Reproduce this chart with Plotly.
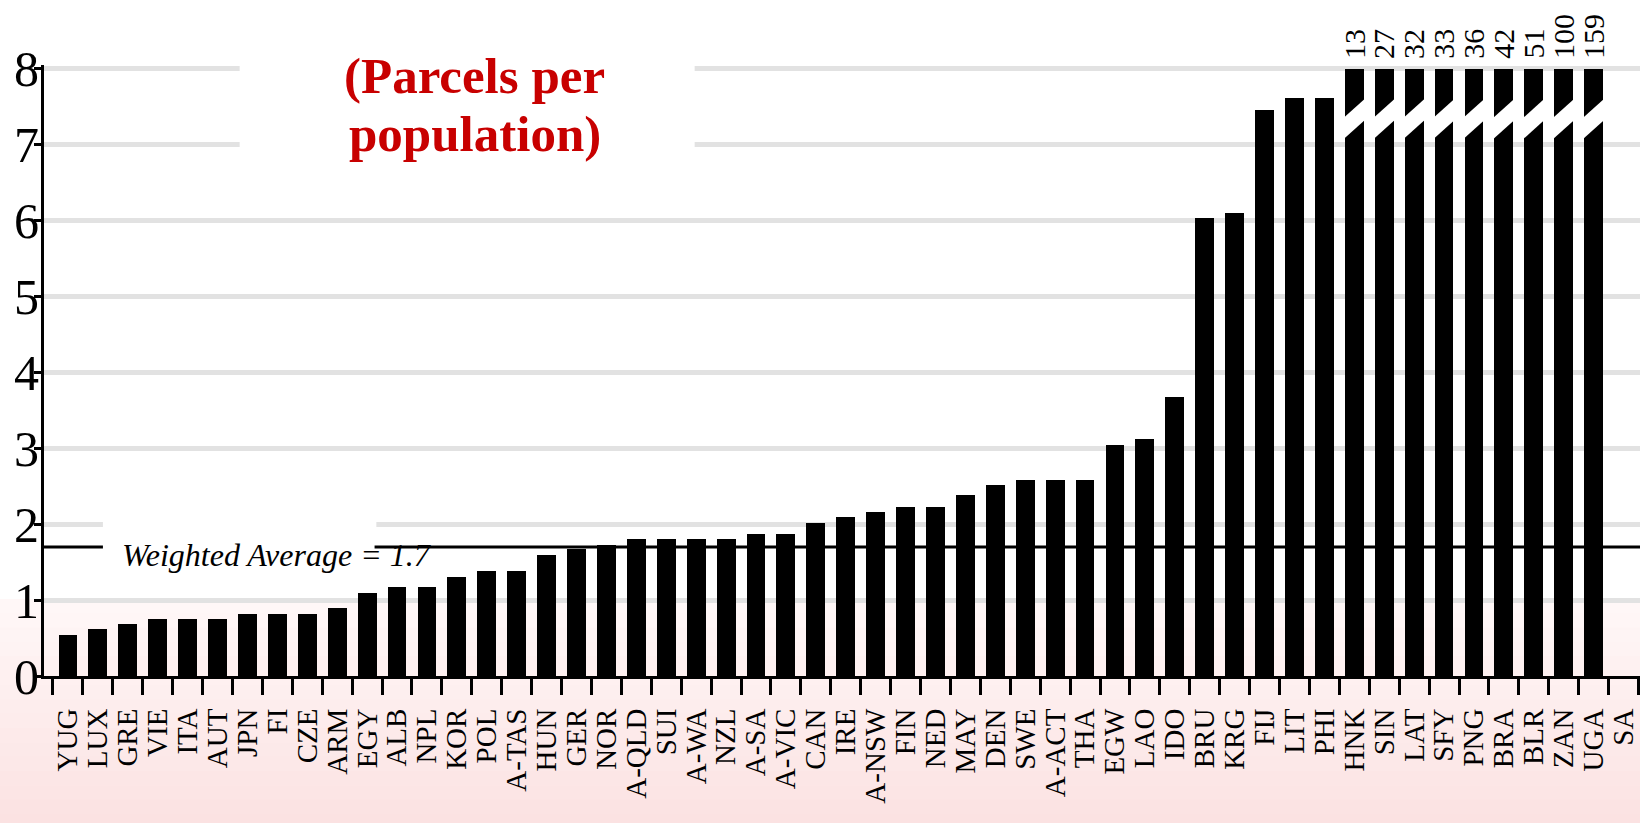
import plotly.graph_objects as go

# ---------------- data ----------------
countries = ["YUG", "LUX", "GRE", "VIE", "ITA", "AUT", "JPN", "FI", "CZE", "ARM",
             "EGY", "ALB", "NPL", "KOR", "POL", "A-TAS", "HUN", "GER", "NOR", "A-QLD",
             "SUI", "A-WA", "NZL", "A-SA", "A-VIC", "CAN", "IRE", "A-NSW", "FIN", "NED",
             "MAY", "DEN", "SWE", "A-ACT", "THA", "EGW", "LAO", "IDO", "BRU", "KRG",
             "FIJ", "LIT", "PHI", "HNK", "SIN", "LAT", "SFY", "PNG", "BRA", "BLR",
             "ZAN", "UGA", "SA"]
values = [0.54, 0.62, 0.68, 0.75, 0.75, 0.75, 0.82, 0.82, 0.82, 0.89,
          1.10, 1.17, 1.17, 1.31, 1.38, 1.38, 1.60, 1.67, 1.73, 1.80,
          1.80, 1.80, 1.80, 1.87, 1.87, 2.02, 2.10, 2.16, 2.23, 2.23,
          2.38, 2.51, 2.58, 2.58, 2.58, 3.04, 3.12, 3.68, 6.03, 6.10,
          7.46, 7.61, 7.61, 13, 27, 32, 33, 36, 42, 51,
          100, 159, None]
y_ticks = [0, 1, 2, 3, 4, 5, 6, 7, 8]
weighted_average = 1.7
title_lines = ["(Parcels per", "population)"]

# ---------------- styling constants ----------------
AXIS_CAP = 8
BAR_W = 0.63
SERIF = "Liberation Serif, Times New Roman, serif"

n = len(countries)
shown = [None if v is None else min(v, AXIS_CAP) for v in values]

fig = go.Figure()
fig.add_trace(go.Bar(
    x=countries, y=shown, width=BAR_W,
    marker=dict(color="black", line=dict(width=0)),
    hoverinfo="skip", showlegend=False,
))

shapes = []
# pink gradient background in the lower part (paper coords)
top_p, bot_p = 0.125, -0.25
bands = 16
c0, c1 = (255, 247, 247), (251, 226, 226)
for k in range(bands):
    t = k / (bands - 1)
    col = tuple(round(c0[j] + (c1[j] - c0[j]) * t) for j in range(3))
    y_hi = top_p + (bot_p - top_p) * k / bands
    y_lo = top_p + (bot_p - top_p) * (k + 1) / bands
    shapes.append(dict(type="rect", xref="paper", yref="paper",
                       x0=-0.03, x1=1.01, y0=y_lo, y1=y_hi + 0.001,
                       fillcolor="rgb(%d,%d,%d)" % col, line=dict(width=0),
                       layer="below"))

# white boxes behind text (hide gridlines)
shapes.append(dict(type="rect", xref="x", yref="y", x0=5.74, x1=20.95, y0=6.8, y1=8.2,
                   fillcolor="white", line=dict(width=0), layer="between"))
shapes.append(dict(type="rect", xref="x", yref="y", x0=1.17, x1=10.31, y0=1.35, y1=2.08,
                   fillcolor="white", line=dict(width=0), layer="between"))

# weighted average line (interrupted by label)
for x0, x1 in [(-0.8, 1.17), (10.25, 52.6)]:
    shapes.append(dict(type="line", xref="x", yref="y", x0=x0, x1=x1,
                       y0=weighted_average, y1=weighted_average,
                       line=dict(color="black", width=3), layer="above"))

# axis break slashes on truncated bars
annotations = []
for i, v in enumerate(values):
    if v is not None and v > AXIS_CAP:
        xl = i - BAR_W / 2 - 0.02
        xr = i + BAR_W / 2 + 0.02
        path = "M %f,%f L %f,%f L %f,%f L %f,%f Z" % (xl, 7.08, xr, 7.32, xr, 7.6, xl, 7.36)
        shapes.append(dict(type="path", xref="x", yref="y", path=path,
                           fillcolor="white", line=dict(width=0), layer="above"))
        annotations.append(dict(x=i, y=AXIS_CAP, xref="x", yref="y", text=str(v),
                                textangle=-90, showarrow=False, xanchor="center",
                                yanchor="bottom", yshift=8,
                                font=dict(family=SERIF, size=30, color="black")))

for line, yv in zip(title_lines, [7.9, 7.14]):
    annotations.append(dict(x=13.6, y=yv, xref="x", yref="y",
                            text="<b>" + line + "</b>",
                            showarrow=False, xanchor="center", yanchor="middle",
                            font=dict(family=SERIF, size=51, color="#c80000")))
annotations.append(dict(x=6.98, y=1.6, xref="x", yref="y",
                        text="<i>Weighted Average = %.1f</i>" % weighted_average,
                        showarrow=False, xanchor="center", yanchor="middle",
                        font=dict(family=SERIF, size=32, color="black")))

fig.update_layout(
    width=1640, height=823,
    margin=dict(l=44, r=0, t=65, b=147),
    paper_bgcolor="white", plot_bgcolor="rgba(0,0,0,0)",
    bargap=0,
    shapes=shapes, annotations=annotations,
    xaxis=dict(type="category", range=[-0.8, 52.55],
               categoryorder="array", categoryarray=countries,
               tickmode="array", tickvals=countries, ticktext=countries,
               tickangle=-90, tickfont=dict(family=SERIF, size=29, color="black"),
               ticklabeloverflow="allow", ticklabelstandoff=18,
               showline=True, linecolor="black", linewidth=3,
               ticks="outside", ticklen=16, tickwidth=3, tickcolor="black",
               tickson="boundaries", showgrid=False, zeroline=False),
    yaxis=dict(range=[0, 8.05], tickmode="array", tickvals=y_ticks,
               ticktext=[str(t) for t in y_ticks],
               tickfont=dict(family=SERIF, size=50, color="black"),
               ticklabelstandoff=-15,
               showline=True, linecolor="black", linewidth=3,
               ticks="outside", ticklen=7, tickwidth=3, tickcolor="black",
               showgrid=True, gridcolor="#e2e2e2", gridwidth=5, zeroline=False),
)

fig.write_html("out.html", config={"displayModeBar": False},
               post_script="document.body.style.margin='0';")
